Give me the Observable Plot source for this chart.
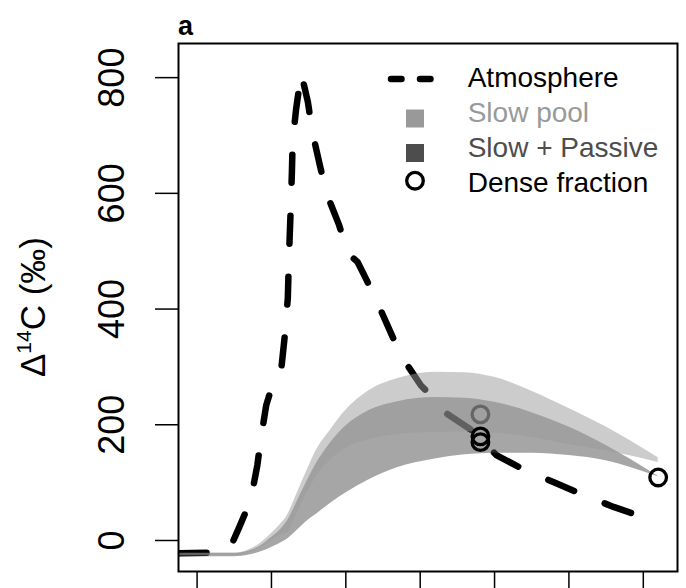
<!DOCTYPE html>
<html><head><meta charset="utf-8">
<script src="https://cdn.jsdelivr.net/npm/d3@7"></script>
<script src="https://cdn.jsdelivr.net/npm/@observablehq/plot@0.6"></script>
<style>
html,body{margin:0;padding:0;background:#fff;overflow:hidden}
#wrap{position:relative;width:686px;height:588px;font-family:"Liberation Sans",Arial,Helvetica,sans-serif}
#wrap svg{display:block}
#overlay{position:absolute;left:0;top:0;pointer-events:none}
</style></head><body><div id="wrap"></div>
<script>
// Atmosphere Δ14C record
const atmYears = [1947.5, 1952.6, 1954.4, 1955.6, 1957.2, 1958.1, 1958.6, 1959.3, 1959.9, 1961.3, 1961.8, 1962.2, 1962.3, 1962.45, 1962.6, 1962.75, 1962.85, 1963.3, 1964.0, 1964.9, 1965.5, 1966.5, 1967.4, 1969.1, 1970.3, 1971.6, 1972.8, 1974.7, 1977.4, 1980.1, 1982.1, 1983.6, 1987.0, 1990.3, 1994.2, 1997.9, 2002.1, 2006.0, 2010.1];
const atmValues = [-22, -21, -14, 21, 69, 130, 178, 234, 259, 294, 355, 419, 466, 525, 577, 637, 689, 744, 808, 758, 706, 649, 600, 545, 496, 481, 450, 398, 320, 268, 242, 219, 190, 147, 121, 101, 78, 58, 40];

// Model bands
const bandYears = [1947.5, 1955, 1957, 1958.5, 1960, 1961, 1962.2, 1963, 1964, 1965, 1966, 1968, 1970, 1973, 1977, 1982, 1986, 1990, 1995, 2000, 2005, 2012];
const slowLo = [-26, -26, -21, -13, 0, 8, 15, 35, 62, 88, 110, 140, 160, 174, 183, 187, 188, 186, 178, 166, 155, 135];
const slowHi = [-22, -22, -16, -5, 12, 25, 45, 68, 98, 127, 155, 192, 225, 258, 280, 291, 290, 282, 258, 228, 196, 143];
const passLo = [-28, -28, -25, -20, -12, -6, 3, 12, 24, 36, 45, 65, 82, 104, 126, 141, 148, 151, 151, 147, 138, 110];
const passHi = [-22, -22, -18, -10, 5, 16, 35, 55, 82, 108, 132, 170, 198, 224, 240, 247, 246, 239, 221, 196, 164, 111];

// Dense fraction measurements
const denseYears = [1988.1, 1988.1, 1988.1, 2012.0];
const denseValues = [218, 180, 170, 109];
const denseGroup = ["model", "measured", "measured", "measured"];

const xTicks = [1950, 1960, 1970, 1980, 1990, 2000, 2010];
const yTicks = [0, 200, 400, 600, 800];
const legendLabels = ["Atmosphere", "Slow pool", "Slow + Passive", "Dense fraction"];
const panelLabel = "a";

const atm = atmYears.map((x, i) => ({year: x, value: atmValues[i]}));
const bands = bandYears.map((x, i) => ({year: x, slowLo: slowLo[i], slowHi: slowHi[i], passLo: passLo[i], passHi: passHi[i]}));
const dense = denseYears.map((x, i) => ({year: x, value: denseValues[i], group: denseGroup[i]}));

const font = "Liberation Sans, Arial, Helvetica, sans-serif";

const chart = Plot.plot({
  width: 686, height: 588,
  marginLeft: 178, marginRight: 9, marginTop: 43, marginBottom: 17,
  style: {fontFamily: font, background: "white", color: "black"},
  x: {domain: [1947.5, 2014.6]},
  y: {domain: [-53.6, 859]},
  color: {domain: ["model", "measured"], range: ["#666666", "#000000"]},
  marks: [
    Plot.line(atm, {x: "year", y: "value", stroke: "black", strokeWidth: 6.5, strokeDasharray: "28,33", strokeLinecap: "round", strokeLinejoin: "round", clip: true}),
    Plot.areaY(bands, {x: "year", y1: "passLo", y2: "passHi", fill: "#4d4d4d", fillOpacity: 0.5, curve: "monotone-x", clip: true}),
    Plot.areaY(bands, {x: "year", y1: "slowLo", y2: "slowHi", fill: "#999999", fillOpacity: 0.5, curve: "monotone-x", clip: true}),
    Plot.dot(dense, {x: "year", y: "value", r: 8.3, stroke: "group", strokeWidth: 3.3, fill: "none"}),
    Plot.frame({stroke: "black", strokeWidth: 2}),
    Plot.axisX({ticks: xTicks, tickSize: 20, fill: "none", strokeWidth: 1.5}),
    Plot.axisY({ticks: yTicks, tickSize: 23, fill: "none", strokeWidth: 1.5}),
    Plot.text(yTicks, {y: d => d, text: d => String(d), frameAnchor: "left", dx: -55, rotate: -90, textAnchor: "middle", lineAnchor: "bottom", fontSize: 36, fill: "black"})
  ]
});

const wrap = document.getElementById("wrap");
wrap.appendChild(chart);

// Overlay: panel label, y-axis title and legend
const ov = d3.select(wrap).append("svg").attr("id", "overlay")
  .attr("width", 686).attr("height", 588)
  .style("font-family", font);

ov.append("text").attr("x", 178).attr("y", 35).attr("font-size", 27).attr("font-weight", "bold").text(panelLabel);

const yl = ov.append("text").attr("transform", "translate(45,307) rotate(-90)")
  .attr("text-anchor", "middle").attr("font-size", 35).attr("fill", "black");
yl.append("tspan").text("Δ");
yl.append("tspan").attr("font-size", 21).attr("dy", -14).text("14");
yl.append("tspan").attr("dy", 14).text("C (‰)");

const lg = ov.append("g");
const baselines = [87.3, 122.3, 157, 191.7];
const textColors = ["black", "#999999", "#4d4d4d", "black"];
lg.append("line").attr("x1", 391).attr("x2", 435).attr("y1", 79).attr("y2", 79)
  .attr("stroke", "black").attr("stroke-width", 6.5).attr("stroke-dasharray", "10.5,18.5").attr("stroke-linecap", "round");
lg.append("rect").attr("x", 406).attr("y", 109.5).attr("width", 18).attr("height", 18).attr("fill", "#999999");
lg.append("rect").attr("x", 406).attr("y", 144).attr("width", 18).attr("height", 18).attr("fill", "#4d4d4d");
lg.append("circle").attr("cx", 415).attr("cy", 180.7).attr("r", 8.3).attr("fill", "none").attr("stroke", "black").attr("stroke-width", 3.3);
legendLabels.forEach((t, i) => {
  lg.append("text").attr("x", 467.7).attr("y", baselines[i]).attr("font-size", 28).attr("fill", textColors[i]).text(t);
});
</script></body></html>
